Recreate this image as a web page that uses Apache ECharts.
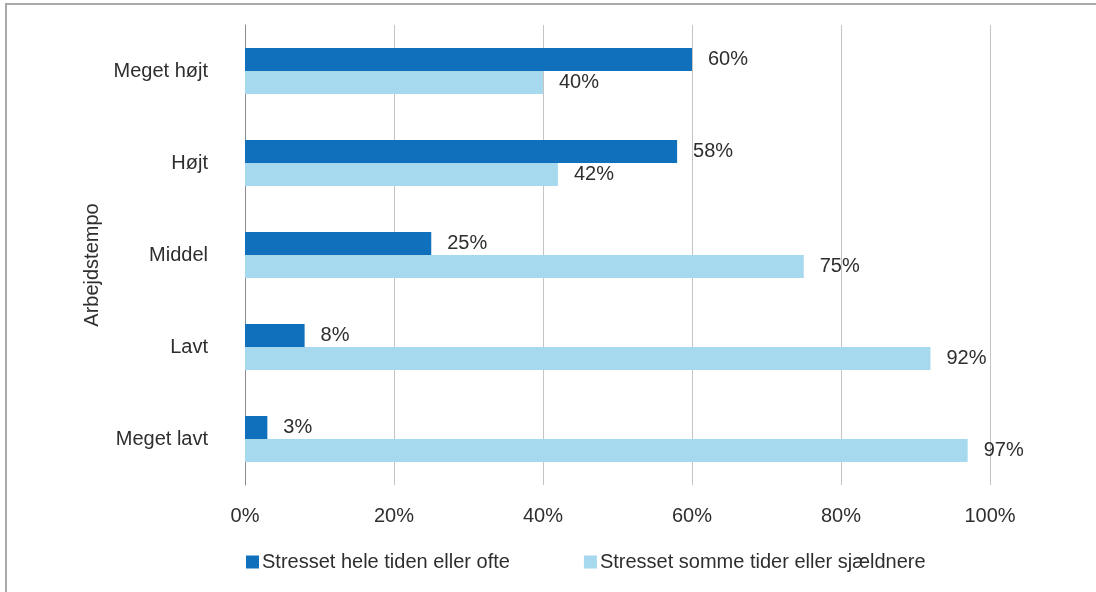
<!DOCTYPE html>
<html>
<head>
<meta charset="utf-8">
<script src="https://cdn.jsdelivr.net/npm/echarts@6/dist/echarts.min.js"></script>
<style>
  html, body { margin: 0; padding: 0; background: #fff; }
  #chart { width: 1096px; height: 592px; }
</style>
</head>
<body>
<div id="chart"></div>
<script>
// Work pace categories, top to bottom
const categories = ['Meget højt', 'Højt', 'Middel', 'Lavt', 'Meget lavt'];
// Share stressed all the time or often (%)
const stressedOften = [60, 58, 25, 8, 3];
// Share stressed sometimes or more rarely (%)
const stressedRarely = [40, 42, 75, 92, 97];
const seriesNames = ['Stresset hele tiden eller ofte', 'Stresset somme tider eller sjældnere'];
const axisName = 'Arbejdstempo';

const FONT = 'Liberation Sans';
const TEXT = '#2e2e2e';
const SIZE = 20;

const chart = echarts.init(document.getElementById('chart'));

const valueLabel = {
  show: true,
  position: 'right',
  distance: 16,
  formatter: p => p.value + '%',
  fontFamily: FONT,
  fontSize: SIZE,
  color: TEXT
};

chart.setOption({
  animation: false,
  textStyle: { fontFamily: FONT },
  graphic: [{
    type: 'rect',
    shape: { x: 6, y: 4, width: 1200, height: 700 },
    style: { fill: 'none', stroke: '#a8a8a8', lineWidth: 2 },
    silent: true
  }],
  grid: { left: 245, right: 106, top: 25, bottom: 107 },
  legend: {
    data: seriesNames,
    left: 241,
    top: 547,
    itemWidth: 13,
    itemHeight: 13,
    itemGap: 74,
    icon: 'rect',
    textStyle: { fontFamily: FONT, fontSize: SIZE, color: TEXT, padding: [0, 0, 0, -2] }
  },
  xAxis: {
    type: 'value',
    min: 0,
    max: 100,
    interval: 20,
    axisLine: { show: false },
    axisTick: { show: false },
    splitLine: { lineStyle: { color: '#c4c4c4', width: 1 } },
    axisLabel: {
      formatter: v => v + '%',
      fontFamily: FONT,
      fontSize: SIZE,
      color: TEXT,
      margin: 21
    }
  },
  yAxis: {
    type: 'category',
    data: categories,
    inverse: true,
    name: axisName,
    nameLocation: 'middle',
    nameGap: 143,
    nameRotate: 90,
    nameTextStyle: { fontFamily: FONT, fontSize: SIZE, color: TEXT, padding: [0, 20, 0, 0] },
    axisLine: { show: true, lineStyle: { color: '#8a8a8a', width: 1 } },
    axisTick: { show: false },
    axisLabel: { fontFamily: FONT, fontSize: SIZE, color: TEXT, margin: 37 }
  },
  series: [
    {
      name: seriesNames[0],
      type: 'bar',
      data: stressedOften,
      barWidth: 23,
      barGap: '0%',
      itemStyle: { color: '#1170bb' },
      label: valueLabel
    },
    {
      name: seriesNames[1],
      type: 'bar',
      data: stressedRarely,
      barWidth: 23,
      barGap: '0%',
      itemStyle: { color: '#a6d8ee' },
      label: valueLabel
    }
  ]
});
</script>
</body>
</html>
